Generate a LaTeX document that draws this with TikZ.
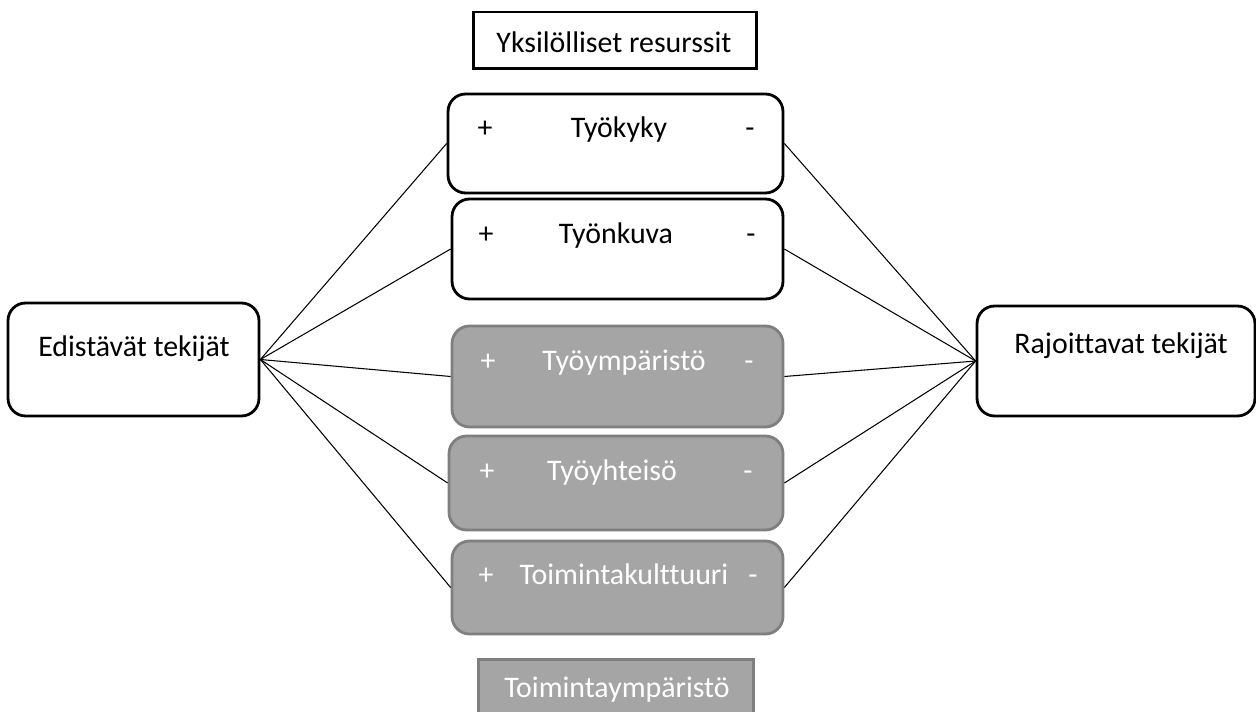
\documentclass[tikz,border=0pt]{standalone}
\usepackage{fontspec}
\setmainfont{Carlito}[Ligatures=NoCommon]
\usetikzlibrary{positioning}

\definecolor{boxgray}{HTML}{A5A5A5}
\definecolor{edgegray}{HTML}{7F7F7F}

\tikzset{
  resbox/.style={draw,line width=1.6pt,rounded corners=10pt,fill=white,minimum width=6.62cm,minimum height=2cm},
  envbox/.style={resbox,draw=edgegray,fill=boxgray},
  sidebox/.style={draw,line width=1.6pt,rounded corners=10pt,fill=white},
  titlebox/.style={draw,line width=1.7pt,minimum width=5.68cm,minimum height=1.14cm},
  lbl/.style={anchor=base,inner sep=0pt,font=\fontsize{17}{20}\selectfont},
  wlbl/.style={lbl,text=white},
  link/.style={line width=0.6pt},
}

\begin{document}
\begin{tikzpicture}[x=0.02cm,y=-0.02cm]
  \clip (0,0) rectangle (1256,712);
  \fill[white] (0,0) rectangle (1256,712);

  % side boxes
  \node[sidebox,minimum width=5.02cm,minimum height=2.26cm] (edist) at (133.5,359.5) {};
  \node[sidebox,minimum width=5.56cm,minimum height=2.2cm] (rajoit) at (1116,361) {};
  \node[lbl] (edistlbl) at (134,357) {Edistävät tekijät};
  \node[lbl] (rajoitlbl) at (1121,354) {Rajoittavat tekijät};

  % individual resources
  \node[titlebox] (yksil) at (615,40.5) {};
  \node[lbl] (yksillbl) at (614,53) {Yksilölliset resurssit};
  \node[resbox,minimum width=6.7cm,minimum height=1.98cm] (tyokyky) at (615.5,143.5) {};
  \node[resbox] (tyonkuva) at (617.5,249) {};

  % operating environment
  \node[envbox,minimum height=2.02cm] (tyoymp) at (617.5,376.5) {};
  \node[envbox,minimum width=6.68cm,minimum height=1.88cm] (tyoyht) at (616,483) {};
  \node[envbox,minimum height=1.86cm] (toimkult) at (617.5,587.5) {};
  \node[titlebox,draw=edgegray,fill=boxgray,minimum width=5.52cm] (toimymp) at (616,687.5) {};
  \node[wlbl] (toimymplbl) at (617,697) {Toimintaympäristö};

  % texts in the boxes
  \node[lbl] (tyokykylbl) at (619,138) {Työkyky};
  \node[lbl] (tyokykyp) at (485,138) {+};
  \node[lbl] (tyokykym) at (750,138) {-};
  \node[lbl] (tyonkuvalbl) at (616,244) {Työnkuva};
  \node[lbl] (tyonkuvap) at (486,244) {+};
  \node[lbl] (tyonkuvam) at (751,244) {-};
  \node[wlbl] (tyoymplbl) at (624,371) {Työympäristö};
  \node[wlbl] (tyoympp) at (488,371) {+};
  \node[wlbl] (tyoympm) at (749,371) {-};
  \node[wlbl] (tyoyhtlbl) at (612,480) {Työyhteisö};
  \node[wlbl] (tyoyhtp) at (487,480) {+};
  \node[wlbl] (tyoyhtm) at (748,480) {-};
  \node[wlbl] (toimkultlbl) at (624,584) {Toimintakulttuuri};
  \node[wlbl] (toimkultp) at (486,584) {+};
  \node[wlbl] (toimkultm) at (753,584) {-};

  % connectors
  \foreach \n in {tyokyky,tyonkuva,tyoymp,tyoyht,toimkult}
    \draw[link] (edist.east) -- (\n.west) (\n.east) -- (rajoit.west);
\end{tikzpicture}
\end{document}
